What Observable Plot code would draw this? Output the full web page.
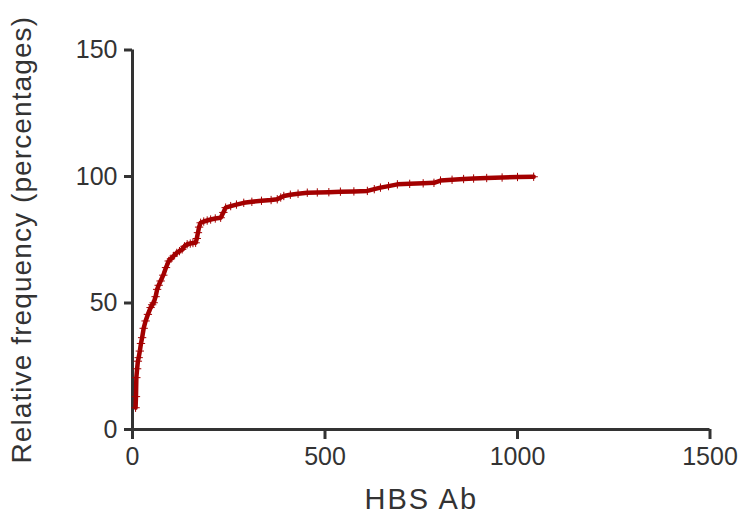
<!DOCTYPE html>
<html>
<head>
<meta charset="utf-8">
<script src="https://cdn.jsdelivr.net/npm/d3@7"></script>
<script src="https://cdn.jsdelivr.net/npm/@observablehq/plot@0.6"></script>
<style>
  html, body { margin: 0; padding: 0; background: #fff; }
  svg { display: block; }
</style>
</head>
<body>
<div id="chart"></div>
<script>
// Cumulative relative frequency curve (HBS Ab)
const hbsAb = [8, 9, 10, 12, 14, 16, 19, 22, 25, 29, 34, 40, 47, 51, 55, 60, 64, 68, 73, 80, 87, 94, 100, 107, 115, 122, 129, 135, 142, 150, 157, 164, 167, 170, 173, 177, 185, 194, 203, 215, 229, 236, 242, 255, 270, 289, 310, 335, 360, 376, 385, 393, 410, 430, 454, 480, 510, 540, 575, 610, 628, 644, 665, 688, 720, 755, 783, 800, 830, 860, 886, 920, 960, 1000, 1042];
const relFreq = [8.6, 13, 20.5, 24, 27, 28.4, 31, 34, 36.3, 40, 42.9, 45.5, 48.2, 49.3, 50.1, 52.5, 55.4, 57, 58.7, 61, 64, 66.6, 67.5, 68.6, 69.8, 70.5, 71.2, 72.4, 73.2, 73.5, 73.7, 73.8, 75.5, 77.8, 80, 81.7, 82.2, 82.6, 83, 83.4, 83.7, 85.8, 87.7, 88.3, 88.9, 89.6, 90, 90.4, 90.7, 91, 91.7, 92.3, 92.8, 93.2, 93.6, 93.7, 93.8, 94, 94.1, 94.3, 95, 95.6, 96.2, 96.9, 97.1, 97.3, 97.5, 98.4, 98.7, 99, 99.2, 99.4, 99.6, 99.8, 99.9];
const xTicks = [0, 500, 1000, 1500];
const yTicks = [0, 50, 100, 150];
const xTitle = "HBS Ab";
const yTitle = "Relative frequency (percentages)";

const data = hbsAb.map((x, i) => ({x, y: relFreq[i]}));
const axisColor = "#333";
const lineColor = "#a30000";

const chart = Plot.plot({
  width: 738,
  height: 516,
  marginLeft: 132,
  marginRight: 28.5,
  marginTop: 49.5,
  marginBottom: 87,
  style: {fontFamily: "Liberation Sans, Arial, sans-serif", background: "#fff", color: axisColor},
  x: {domain: [0, 1500]},
  y: {domain: [0, 150]},
  marks: [
    Plot.axisX({ticks: xTicks, tickSize: 10, tickPadding: 8, fontSize: 25, strokeWidth: 3, stroke: axisColor, fill: axisColor, label: null, tickFormat: d => String(d)}),
    Plot.axisY({ticks: yTicks, tickSize: 8, tickPadding: 7, fontSize: 25, strokeWidth: 3, stroke: axisColor, fill: axisColor, label: null, tickFormat: d => String(d)}),
    Plot.ruleX([0], {stroke: axisColor, strokeWidth: 3}),
    Plot.ruleY([0], {stroke: axisColor, strokeWidth: 3}),
    Plot.line(data, {x: "x", y: "y", stroke: lineColor, strokeWidth: 4.5, strokeLinejoin: "round"}),
    Plot.dot(data, {x: "x", y: "y", symbol: "plus", r: 2.8, stroke: lineColor, strokeWidth: 1}),
    Plot.text([xTitle], {frameAnchor: "bottom", dy: 79, fontSize: 29, fill: axisColor, textAnchor: "middle", lineAnchor: "bottom"}),
    Plot.text([yTitle], {frameAnchor: "left", dx: -110, rotate: -90, fontSize: 28, fill: axisColor, textAnchor: "middle", lineAnchor: "middle"})
  ]
});
document.getElementById("chart").appendChild(chart);
// letter spacing on titles
d3.select(chart).selectAll("text").filter(function() { return this.textContent === xTitle; }).attr("letter-spacing", "2px");
d3.select(chart).selectAll("text").filter(function() { return this.textContent === yTitle; }).attr("letter-spacing", "1.1px");
</script>
</body>
</html>
